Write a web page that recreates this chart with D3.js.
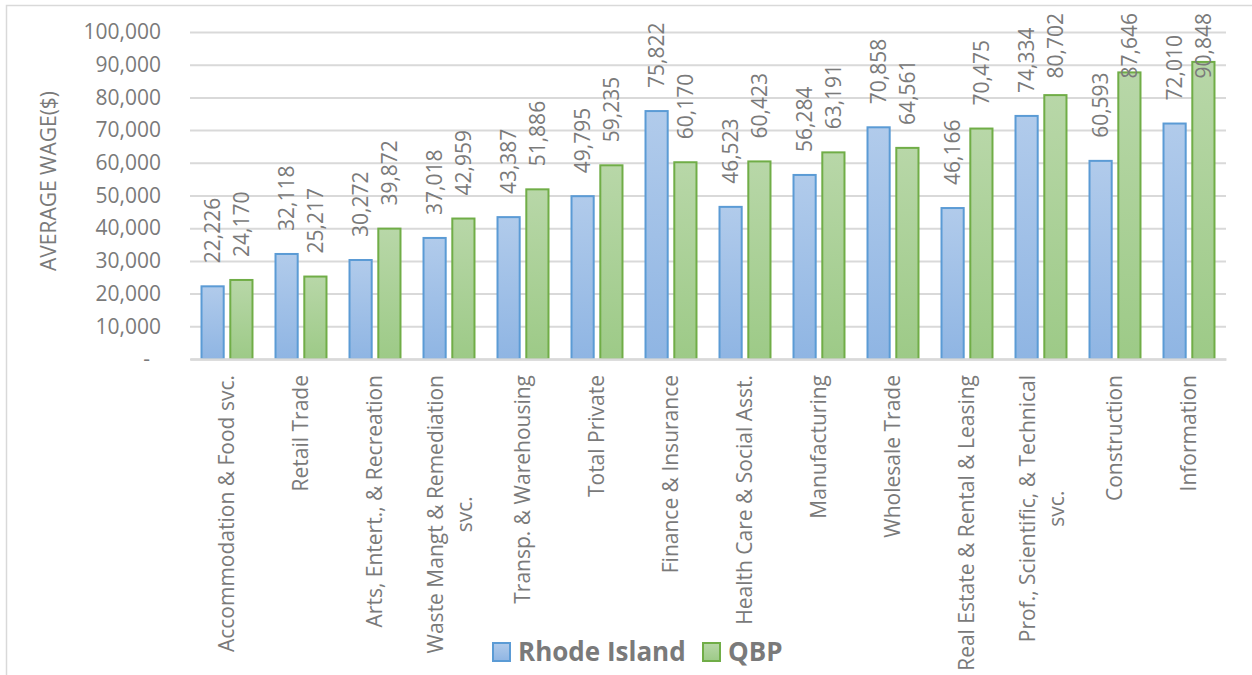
<!DOCTYPE html>
<html>
<head>
<meta charset="utf-8">
<script src="https://cdn.jsdelivr.net/npm/d3@7"></script>
<style>
  body { margin: 0; background: #fff; }
  text { font-family: "Open Sans", sans-serif; fill: #7a7a7a; }
</style>
</head>
<body>
<script>
// data
const categories = [
  "Accommodation & Food svc.",
  "Retail Trade",
  "Arts, Entert., & Recreation",
  "Waste Mangt & Remediation\nsvc.",
  "Transp. & Warehousing",
  "Total Private",
  "Finance & Insurance",
  "Health Care & Social Asst.",
  "Manufacturing",
  "Wholesale Trade",
  "Real Estate & Rental & Leasing",
  "Prof., Scientific, & Technical\nsvc.",
  "Construction",
  "Information"
];
const rhodeIsland = [22226, 32118, 30272, 37018, 43387, 49795, 75822, 46523, 56284, 70858, 46166, 74334, 60593, 72010];
const qbp = [24170, 25217, 39872, 42959, 51886, 59235, 60170, 60423, 63191, 64561, 70475, 80702, 87646, 90848];
const seriesNames = ["Rhode Island", "QBP"];
const yTicks = [0, 10000, 20000, 30000, 40000, 50000, 60000, 70000, 80000, 90000, 100000];

const W = 1252, H = 675;
const plotL = 190, plotR = 1226, plotT = 32, plotB = 359;

const svg = d3.select("body").append("svg")
  .attr("width", W).attr("height", H);

// gradients for the bar fills
const defs = svg.append("defs");
const grads = [["gBlue", "#b1cbeb", "#8fb5e3"], ["gGreen", "#b8d7a8", "#9dca87"]];
grads.forEach(g => {
  const lg = defs.append("linearGradient").attr("id", g[0])
    .attr("x1", 0).attr("y1", 0).attr("x2", 0).attr("y2", 1);
  lg.append("stop").attr("offset", "0%").attr("stop-color", g[1]);
  lg.append("stop").attr("offset", "100%").attr("stop-color", g[2]);
});
const fills = ["url(#gBlue)", "url(#gGreen)"];
const strokes = ["#5b9bd5", "#70ad47"];

// chart border
svg.append("rect")
  .attr("x", 6.5).attr("y", 5.5)
  .attr("width", W + 20).attr("height", H + 20)
  .attr("fill", "none").attr("stroke", "#d9d9d9").attr("stroke-width", 1.5);

//scales
const x = d3.scaleBand().domain(categories).range([plotL, plotR])
  .paddingInner(0.284).paddingOuter(0.142);
const xs = d3.scaleBand().domain(seriesNames).range([0, x.bandwidth()]).paddingInner(0.16);
const y = d3.scaleLinear().domain([0, 100000]).range([plotB, plotT]);

//y axis + gridlines
const yAxis = d3.axisLeft(y)
  .tickValues(yTicks)
  .tickSize(-(plotR - plotL))
  .tickPadding(29)
  .tickFormat(d => d === 0 ? "-" : d3.format(",")(d));

const gy = svg.append("g")
  .attr("transform", "translate(" + plotL + ",0)")
  .call(yAxis);
gy.select(".domain").remove();
gy.selectAll(".tick line").attr("stroke", "#d9d9d9").attr("stroke-width", 2);
gy.selectAll(".tick text")
  .attr("fill", "#7a7a7a")
  .style("font-size", "21px")
  .style("font-family", "'Open Sans', sans-serif")
  .attr("dx", d => d === 0 ? -11 : 0);

// y title
svg.append("text")
  .attr("transform", "translate(49,181) rotate(-90)")
  .attr("text-anchor", "middle")
  .attr("dy", "0.35em")
  .style("font-size", "21px")
  .text("AVERAGE WAGE($)");

//bars
const rows = categories.map((c, i) => ({ cat: c, vals: [rhodeIsland[i], qbp[i]] }));

const groups = svg.append("g").selectAll("g")
  .data(rows).enter().append("g")
  .attr("transform", d => "translate(" + x(d.cat) + ",0)");

groups.selectAll("rect")
  .data(d => d.vals.map((v, k) => ({ v: v, k: k })))
  .enter().append("rect")
  .attr("x", d => xs(seriesNames[d.k]) + 1)
  .attr("y", d => y(d.v))
  .attr("width", xs.bandwidth() - 2)
  .attr("height", d => y(0) - y(d.v))
  .attr("fill", d => fills[d.k])
  .attr("stroke", d => strokes[d.k])
  .attr("stroke-width", 2);

// x axis line
const xAxis = d3.axisBottom(x).tickSize(0).tickFormat("");
const gx = svg.append("g")
  .attr("transform", "translate(0," + plotB + ")")
  .call(xAxis);
gx.select(".domain").attr("stroke", "#d9d9d9").attr("stroke-width", 2.5);

// value labels, rotated, clamped to top of chart
groups.selectAll("text.val")
  .data(d => d.vals.map((v, k) => ({ v: v, k: k })))
  .enter().append("text")
  .attr("class", "val")
  .style("font-size", "21px")
  .attr("dy", "0.35em")
  .text(d => d3.format(",")(d.v))
  .each(function (d) {
    const len = this.getComputedTextLength();
    const cx = xs(seriesNames[d.k]) + xs.bandwidth() / 2;
    let base = y(d.v) - 23;
    if (base - len < 13) base = 13 + len;
    d3.select(this).attr("transform", "translate(" + cx + "," + base + ") rotate(-90)");
  });

// category labels
categories.forEach(c => {
  const lines = c.split("\n");
  const cx = x(c) + x.bandwidth() / 2;
  const g = svg.append("g").attr("transform", "translate(" + cx + ",375) rotate(-90)");
  if (lines.length === 1) {
    g.append("text").attr("text-anchor", "end").attr("dy", "0.35em")
      .style("font-size", "21px").text(lines[0]);
  } else {
    const t1 = g.append("text").attr("text-anchor", "end").attr("y", -13).attr("dy", "0.35em")
      .style("font-size", "21px").text(lines[0]);
    const len1 = t1.node().getComputedTextLength();
    g.append("text").attr("text-anchor", "middle").attr("x", -len1 / 2).attr("y", 16).attr("dy", "0.35em")
      .style("font-size", "21px").text(lines[1]);
  }
});

//legend
const legX = [492, 702];
seriesNames.forEach((s, k) => {
  svg.append("rect")
    .attr("x", legX[k] + 1).attr("y", 643)
    .attr("width", 17).attr("height", 18)
    .attr("fill", fills[k]).attr("stroke", strokes[k]).attr("stroke-width", 2);
  svg.append("text")
    .attr("x", legX[k] + 26).attr("y", 652)
    .attr("dy", "0.35em")
    .style("font-size", "26px").style("font-weight", "bold")
    .text(s);
});
</script>
</body>
</html>
